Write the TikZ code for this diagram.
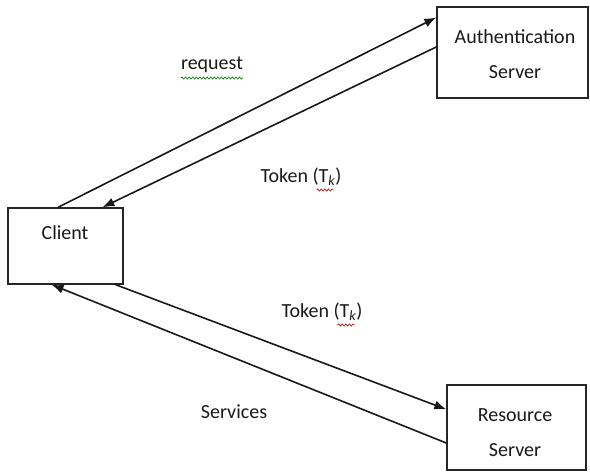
\documentclass[tikz,border=0pt]{standalone}
\usepackage{fontspec}
\setmainfont{Carlito}
\usetikzlibrary{arrows.meta,calc,decorations.pathmorphing}
\begin{document}
\begin{tikzpicture}[x=1pt,y=-1pt,
  box/.style={draw=black!85, line width=1.3pt, fill=white, inner sep=0pt},
  lbl/.style={font=\fontsize{20}{35}\selectfont, text=black!90, inner sep=0pt, align=center},
  flow/.style={line width=1.6pt, draw=black!90, -{Latex[length=12pt,width=9pt]}},
  squig/.style={decorate, decoration={snake, amplitude=1.1pt, segment length=3.6pt}, line width=0.6pt}
]
\useasboundingbox (0,0) rectangle (590,476);

% boxes
\node[box, minimum width=115pt, minimum height=76pt] (client) at (65.5,246) {};
\node[lbl] (clientname) at (65,233) {Client};
\node[box, minimum width=151pt, minimum height=91pt] (auth) at (512.5,52.5) {};
\node[lbl] (authname) at (515,54.5) {Authentication\\Server};
\node[box, minimum width=139pt, minimum height=85pt] (resource) at (516.5,427.5) {};
\node[lbl] (resourcename) at (515,432.5) {Resource\\Server};

% message flows
\draw[flow] ($(client.north west)!0.435!(client.north east)$) -- ($(auth.north west)!0.12!(auth.south west)$);
\draw[flow] ($(auth.north west)!0.44!(auth.south west)$) -- ($(client.north west)!0.817!(client.north east)$);
\draw[flow] ($(client.south west)!0.93!(client.south east)$) -- ($(resource.north west)!0.29!(resource.south west)$);
\draw[flow] ($(resource.north west)!0.68!(resource.south west)$) -- ($(client.south west)!0.38!(client.south east)$);

% flow labels
\node[lbl] (req) at (212,65) {request};
\draw[squig, green!45!black] ($(req.west)+(0,13)$) -- ($(req.east)+(0,13)$);
\node[lbl] (tok1) at (301,177) {Token (T\textsubscript{\itshape k})};
\draw[squig, red!70!black] ($(tok1.east)+(-25,13)$) -- ($(tok1.east)+(-8,13)$);
\node[lbl] (tok2) at (322,312) {Token (T\textsubscript{\itshape k})};
\draw[squig, red!70!black] ($(tok2.east)+(-25,13)$) -- ($(tok2.east)+(-8,13)$);
\node[lbl] (serv) at (234,412) {Services};
\end{tikzpicture}
\end{document}
